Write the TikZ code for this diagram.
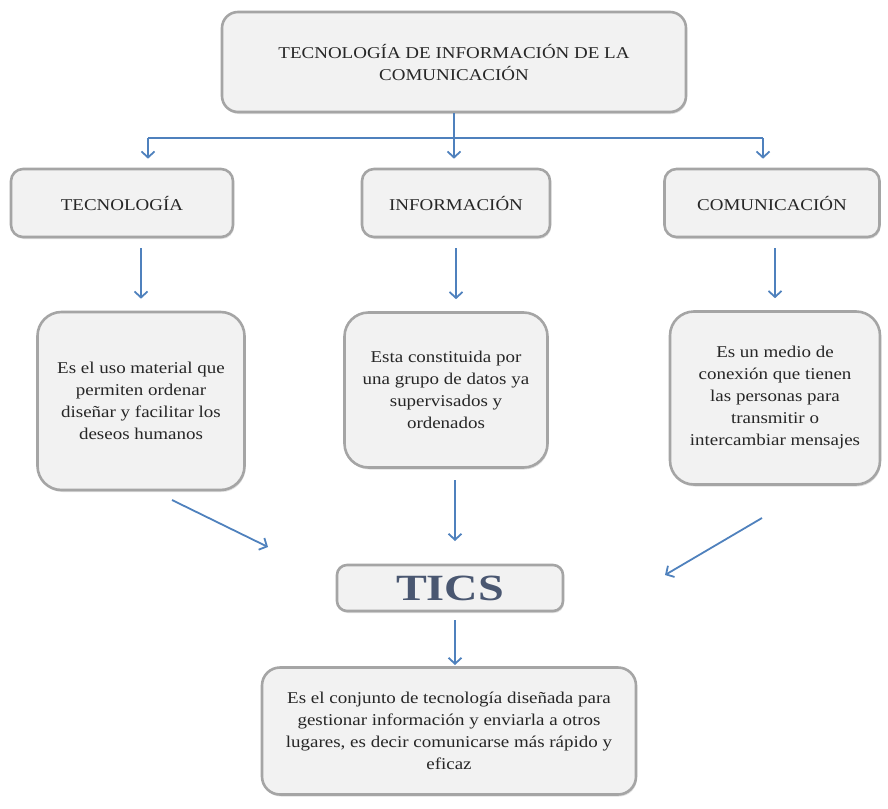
\documentclass[tikz,border=0pt]{standalone}
\usepackage{fontspec}
\setmainfont[FakeStretch=1.15]{Liberation Serif}
\newfontfamily\ticsfuente[FakeStretch=1.25]{Liberation Serif}
\usetikzlibrary{shadows,arrows.meta}

\definecolor{cajafondo}{HTML}{F2F2F2}
\definecolor{cajaborde}{HTML}{A5A5A5}
\definecolor{flechaazul}{HTML}{4F81BD}
\definecolor{ticsazul}{HTML}{2A3A58}

\begin{document}
\begin{tikzpicture}[x=1pt,y=-1pt,
    caja/.style={draw=cajaborde, line width=2.6pt, fill=cajafondo,
      rounded corners=16pt, align=center, inner sep=4pt,
      text=black!85, font=\fontsize{16.5}{22}\selectfont,
      drop shadow={opacity=.25, shadow xshift=1pt, shadow yshift=-2pt}},
    linea/.style={draw=flechaazul, line width=1.8pt},
    flecha/.style={linea, -{Straight Barb[length=6pt,width=13pt,line width=1.8pt]}}]

  \useasboundingbox (0,0) rectangle (888,808);

  % nodos
  \node[caja, minimum width=464pt, minimum height=100pt] (tic) at (454,62)
    {TECNOLOGÍA DE INFORMACIÓN DE LA\\COMUNICACIÓN};

  \node[caja, rounded corners=12pt, minimum width=222pt, minimum height=68pt] (tec) at (122,203) {TECNOLOGÍA};
  \node[caja, rounded corners=12pt, minimum width=188pt, minimum height=68pt] (inf) at (456,203) {INFORMACIÓN};
  \node[caja, rounded corners=12pt, minimum width=215pt, minimum height=68pt] (com) at (772,203) {COMUNICACIÓN};

  \node[caja, rounded corners=24pt, minimum width=207pt, minimum height=178pt] (uso) at (141,401)
    {Es el uso material que\\permiten ordenar\\diseñar y facilitar los\\deseos humanos};
  \node[caja, rounded corners=24pt, minimum width=203pt, minimum height=155pt] (datos) at (446,390)
    {Esta constituida por\\una grupo de datos ya\\supervisados y\\ordenados};
  \node[caja, rounded corners=24pt, minimum width=210pt, minimum height=173pt] (medio) at (775,398)
    {Es un medio de\\conexión que tienen\\las personas para\\transmitir o\\intercambiar mensajes};

  \node[caja, rounded corners=10pt, minimum width=226pt, minimum height=46pt,
    font=\ticsfuente\bfseries\fontsize{37}{37}\selectfont, text=ticsazul!85] (tics) at (450,588) {TICS};

  \node[caja, rounded corners=18pt, minimum width=374pt, minimum height=127pt] (conj) at (449,731)
    {Es el conjunto de tecnología diseñada para\\gestionar información y enviarla a otros\\lugares, es decir comunicarse más rápido y\\eficaz};

  % puntos del conector superior
  \coordinate (bus)  at (454,138);
  \coordinate (busl) at (148,138);
  \coordinate (busr) at (763,138);

  % puntos de las flechas hacia TICS
  \coordinate (a1) at (172,500);
  \coordinate (b1) at (268,547);
  \coordinate (a2) at (762,518);
  \coordinate (b2) at (665,575);
  \coordinate (a3) at (455,480);
  \coordinate (b3) at (455,541);
  \coordinate (a4) at (455,620);
  \coordinate (b4) at (455,665);

  % conectores
  \draw[linea] (tic.south) -- (bus);
  \draw[linea] (busl) -- (busr);
  \draw[flecha, shorten >=9pt] (busl) -- (tec.north -| busl);
  \draw[flecha, shorten >=9pt] (bus) -- (inf.north -| bus);
  \draw[flecha, shorten >=9pt] (busr) -- (com.north -| busr);

  \draw[flecha, shorten <=10pt, shorten >=12pt] (uso.north |- tec.south) -- (uso.north);
  \draw[flecha, shorten <=10pt, shorten >=12pt] (inf.south) -- (inf.south |- datos.north);
  \draw[flecha, shorten <=10pt, shorten >=12pt] (medio.north |- com.south) -- (medio.north);

  \draw[flecha] (a1) -- (b1);
  \draw[flecha] (a3) -- (b3);
  \draw[flecha] (a2) -- (b2);
  \draw[flecha] (a4) -- (b4);

\end{tikzpicture}
\end{document}
